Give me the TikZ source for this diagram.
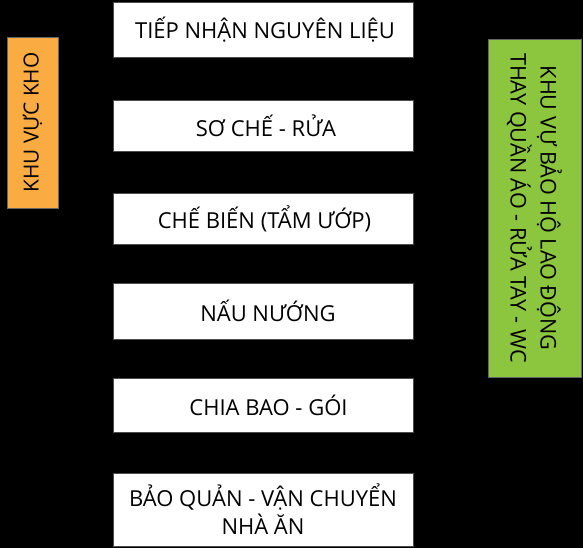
\documentclass[tikz,border=0pt]{standalone}
\usepackage{fontspec}
\setmainfont{Open Sans}
\begin{document}
\begin{tikzpicture}[x=1pt,y=-1pt,
  stepbox/.style={draw=black!70,line width=0.6pt,fill=white,minimum width=300pt,align=center,font=\fontsize{22}{28}\selectfont,inner sep=0pt},
  sidebox/.style={draw=black!60,line width=0.6pt,align=center,inner sep=0pt}]
\fill[black] (0,0) rectangle (583,548);
\useasboundingbox (0,0) rectangle (583,548);
\node[stepbox,minimum height=55pt] (s1) at (263,29.5) {\hspace*{4pt}TIẾP NHẬN NGUYÊN LIỆU};
\node[stepbox,minimum height=51pt] (s2) at (263,125.5) {\hspace*{6pt}SƠ CHẾ - RỬA};
\node[stepbox,minimum height=51pt] (s3) at (263,218.5) {\hspace*{3pt}CHẾ BIẾN (TẨM ƯỚP)};
\node[stepbox,minimum height=56pt] (s4) at (263,311) {\hspace*{10pt}NẤU NƯỚNG};
\node[stepbox,minimum height=54pt] (s5) at (263,405) {\hspace*{11pt}CHIA BAO - GÓI};
\node[stepbox,minimum height=73pt] (s6) at (263,509.5) {BẢO QUẢN - VẬN CHUYỂN\\NHÀ ĂN};
\node[sidebox,fill={rgb,255:red,250;green,172;blue,66},minimum width=51pt,minimum height=171pt] (kho) at (32.5,122.5) {};
\node[rotate=90,font=\fontsize{20.8}{25}\selectfont] (khot) at (kho.center) {KHU VỰC KHO};
\node[sidebox,fill={rgb,255:red,140;green,198;blue,63},minimum width=93pt,minimum height=338pt] (bh) at (534.5,208) {};
\node[rotate=-90,align=center,font=\fontsize{21.6}{30}\selectfont] (bht) at (bh.center) {KHU VỰ BẢO HỘ LAO ĐỘNG\\THAY QUẦN ÁO - RỬA TAY - WC};
\end{tikzpicture}
\end{document}
